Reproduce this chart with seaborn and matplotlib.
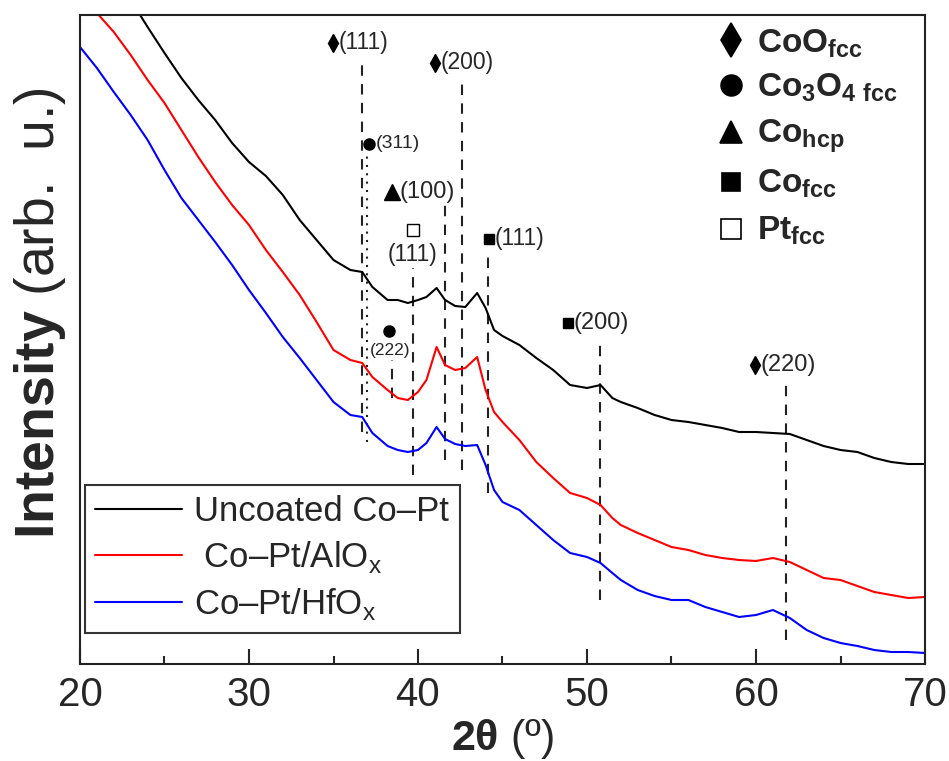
import numpy as np
import pandas as pd
import seaborn as sns
import matplotlib.pyplot as plt
from matplotlib.lines import Line2D

# 2theta grid (deg) and intensities (arb. u.)
two_theta = [20, 21, 22, 23, 24, 25, 26, 27, 28, 29, 30, 31, 32, 33, 34, 35, 36, 36.7, 37.3, 38.2,
             38.8, 39.4, 40.0, 40.5, 41.1, 41.6, 42.2, 42.8, 43.5, 44.0, 44.5, 45.0, 46, 47, 48, 49,
             50, 50.8, 51.5, 52, 53, 54, 55, 56, 57, 58, 59, 60, 61, 62, 63, 64, 65, 66, 67, 68, 69, 70]
uncoated = [744, 718, 691, 664, 637, 611, 586, 564, 544, 521, 502, 488, 469, 444, 424, 404, 394, 392, 377, 364,
            364, 361, 364, 367, 376, 364, 358, 357, 371, 356, 334, 328, 319, 306, 294, 279,
            276, 279, 266, 262, 256, 249, 244, 242, 239, 236, 232, 232, 231, 230, 224, 218, 214, 212, 206, 202, 200, 200]
alox = [676, 651, 632, 609, 584, 561, 534, 507, 482, 459, 439, 414, 392, 369, 342, 314, 304, 301, 287, 274,
        266, 264, 272, 284, 317, 299, 294, 296, 307, 274, 252, 242, 224, 202, 186, 171,
        166, 159, 146, 139, 131, 124, 117, 114, 109, 106, 104, 103, 106, 102, 94, 86, 84, 78, 72, 69, 66, 67]
hfox = [617, 596, 572, 549, 524, 494, 466, 444, 422, 399, 374, 351, 327, 306, 284, 262, 249, 247, 231, 218,
        214, 212, 214, 221, 237, 225, 220, 218, 219, 199, 174, 162, 154, 139, 124, 111,
        107, 101, 91, 84, 74, 68, 64, 64, 57, 52, 47, 49, 54, 46, 34, 26, 21, 18, 14, 12, 12, 11]

samples = ["Uncoated Co\u2013Pt", " Co\u2013Pt/AlO$_\\mathregular{x}$", "Co\u2013Pt/HfO$_\\mathregular{x}$"]
colors = ["black", "#ff0000", "#0000ff"]

# reference peak positions and the extent of their marker lines
peak_x = [36.67, 36.96, 42.58, 41.6, 39.68, 38.44, 44.16, 50.77, 61.78]
peak_top = [604, 511, 582, 459, 396, 304, 409, 321, 284]
peak_bot = [232, 222, 194, 204, 189, 266, 171, 64, 24]
peak_dotted = [False, True, False, False, False, False, False, False, False]

df = pd.DataFrame({
    "2theta": two_theta * 3,
    "I": uncoated + alox + hfox,
    "sample": [samples[0]] * len(two_theta) + [samples[1]] * len(two_theta) + [samples[2]] * len(two_theta),
})

sns.set_style("ticks")
plt.rcParams['font.family'] = ['Liberation Sans', 'DejaVu Sans']
plt.rcParams['mathtext.fontset'] = 'custom'
plt.rcParams['mathtext.rm'] = 'Liberation Sans'
plt.rcParams['mathtext.bf'] = 'Liberation Sans:bold'

fig = plt.figure(figsize=(9.49, 7.61), dpi=100)
ax = fig.add_axes([80 / 949, 1 - 664 / 761, 845 / 949, 649 / 761])

sns.lineplot(data=df, x="2theta", y="I", hue="sample", palette=colors, linewidth=1.5,
             ax=ax, legend=False, sort=False)

for x, t, b, dot in zip(peak_x, peak_top, peak_bot, peak_dotted):
    ax.plot([x, x], [b, t], color="#222222", lw=1.5,
            linestyle=(0, (1, 3)) if dot else (0, (5, 4)), zorder=1)

# peak labels
def plabel(mx, my, marker, ms, tx, ty, txt, fs, ha="left", mfc="black"):
    ax.plot([mx], [my], marker=marker, ms=ms, color="black", mfc=mfc, mew=1, ls="none", clip_on=False)
    ax.text(tx, ty, txt, fontsize=fs, ha=ha, va="center")

plabel(34.97, 621, "d", 9, 35.28, 621, "(111)", 16.5)
plabel(41.00, 601, "d", 9, 41.31, 601, "(200)", 16.5)
plabel(37.10, 520, "o", 8, 37.48, 520, "(311)", 14)
plabel(38.46, 472, "^", 11, 38.92, 472, "(100)", 17)
plabel(39.70, 434, "s", 8, 39.70, 410, "(111)", 16.5, ha="center", mfc="white")
plabel(38.28, 333, "o", 8, 38.34, 313, "(222)", 12.5, ha="center")
plabel(44.20, 425, "s", 7, 44.55, 425, "(111)", 16.5)
plabel(48.88, 341, "s", 7, 49.20, 341, "(200)", 17)
plabel(59.94, 299, "d", 9, 60.25, 299, "(220)", 17)

# phase key (top right)
key_marker = ["d", "o", "^", "s", "s"]
key_mfc = ["black", "black", "black", "black", "white"]
key_ms = [17, 15, 16, 13, 14]
key_my = [624, 579, 532, 482, 435]
key_ty = [611, 567, 521, 471, 424]
key_text = [r"$\mathbf{CoO_{fcc}}$", r"$\mathbf{Co_3O_{4\ fcc}}$", r"$\mathbf{Co_{hcp}}$",
            r"$\mathbf{Co_{fcc}}$", r"$\mathbf{Pt_{fcc}}$"]
for m, fc, ms, my, ty, t in zip(key_marker, key_mfc, key_ms, key_my, key_ty, key_text):
    ax.plot([58.5], [my], marker=m, ms=ms, color="black", mfc=fc, mew=1.2, ls="none")
    ax.text(60.05, ty, t, fontsize=24, ha="left", va="baseline")

handles = [Line2D([0], [0], color=c, lw=1.5) for c in colors]
leg = ax.legend(handles, samples, loc="lower left", bbox_to_anchor=(0.006, 0.048),
                borderaxespad=0, fontsize=25, frameon=True, fancybox=False, edgecolor="black",
                handlelength=2.5, handletextpad=0.35, labelspacing=0.32, borderpad=0.3)
leg.get_frame().set_linewidth(1.5)

ax.set_xlim(20, 70)
ax.set_ylim(0, 649)
ax.set_xticks([20, 30, 40, 50, 60, 70])
ax.set_xticks([25, 35, 45, 55, 65], minor=True)
ax.set_yticks([])
ax.tick_params(axis="x", which="major", direction="in", length=11, width=1.5, labelsize=29, pad=9)
ax.tick_params(axis="x", which="minor", direction="in", length=6, width=1.5)
for s in ax.spines.values():
    s.set_linewidth(1.5)
    s.set_color("#222222")

ax.set_xlabel(r"$\mathbf{2\theta}$ (º)", fontsize=31, labelpad=2)
ax.set_ylabel(r"$\mathbf{Intensity}$ (arb.  u.)", fontsize=40)
ax.yaxis.set_label_coords(-0.014, 0.54)

fig.savefig("out.png", dpi=100)
